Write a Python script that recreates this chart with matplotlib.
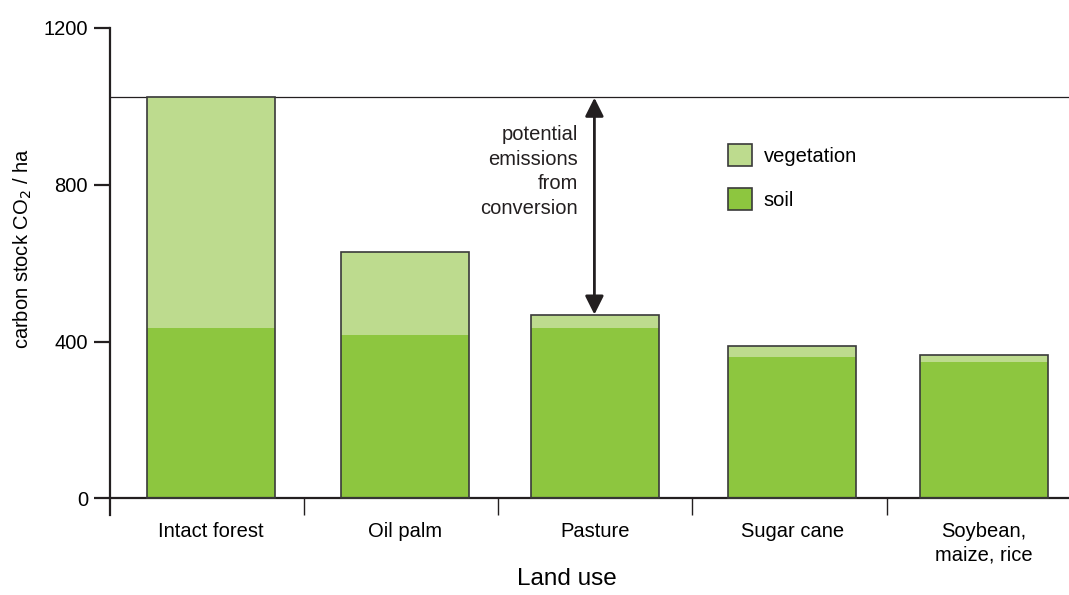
import matplotlib.pyplot as plt
from matplotlib.patches import Patch

plt.rcParams['font.family'] = ['Liberation Sans', 'DejaVu Sans']

land_use = ['Intact forest', 'Oil palm', 'Pasture', 'Sugar cane', 'Soybean,\nmaize, rice']
soil = [434, 416, 434, 360, 347]
vegetation = [590, 212, 33, 28, 18]
forest_total = 1024

veg_color = '#bddb8e'
soil_color = '#8dc63f'
edge = '#3a3a3a'
dark = '#231f20'

fig = plt.figure(figsize=(10.69, 5.95), dpi=100)
ax = fig.add_axes([0.103, 0.134, 0.897, 0.819])

centers = [0.52, 1.52, 2.5, 3.515, 4.5]
totals = [s + v for s, v in zip(soil, vegetation)]
w = 0.66

ax.bar(centers, soil, width=w, color=soil_color, linewidth=0, zorder=2)
ax.bar(centers, vegetation, width=w, bottom=soil, color=veg_color, linewidth=0, zorder=2)
ax.bar(centers, totals, width=w, facecolor='none', edgecolor=edge, linewidth=1.2, zorder=3)

ax.axhline(forest_total, color=dark, linewidth=0.9, zorder=1)

# double arrow: pasture -> intact forest
ax.annotate('', xy=(2.495, forest_total - 2), xytext=(2.495, totals[2] + 2),
            arrowprops=dict(arrowstyle='<|-|>', color=dark, lw=2,
                            mutation_scale=28, shrinkA=0, shrinkB=0))
ax.text(2.41, 952, 'potential\nemissions\nfrom\nconversion', ha='right', va='top',
        fontsize=14.5, color=dark, linespacing=1.37)

ax.set_xlim(0, 4.94)
ax.set_ylim(-43, 1200)
ax.spines['top'].set_visible(False)
ax.spines['right'].set_visible(False)
ax.spines['bottom'].set_position(('data', 0))
for s in ['left', 'bottom']:
    ax.spines[s].set_linewidth(1.6)
    ax.spines[s].set_color(dark)
ax.spines['left'].set_bounds(-43, 1200)

ax.set_yticks([0, 400, 800, 1200])
ax.tick_params(axis='y', direction='out', length=11.5, width=1.6, color=dark,
               labelsize=14.5, pad=4.5)

ax.set_xticks([1, 2, 3, 4])
ax.set_xticklabels([])
ax.tick_params(axis='x', which='major', direction='out', length=12.5, width=1, color=dark)
ax.set_xticks(centers, minor=True)
ax.set_xticklabels(land_use, minor=True, fontsize=14.5, linespacing=1.3)
ax.tick_params(axis='x', which='minor', length=0, pad=17)

ax.set_ylabel('carbon stock CO$_2$ / ha', fontsize=14.5)
ax.yaxis.set_label_coords(-0.079, 0.548)
ax.set_xlabel('Land use', fontsize=17.5)
ax.xaxis.set_label_coords(0.4765, -0.108)

handles = [Patch(facecolor=veg_color, edgecolor=edge, linewidth=1.2, label='vegetation'),
           Patch(facecolor=soil_color, edgecolor=edge, linewidth=1.2, label='soil')]
ax.legend(handles=handles, loc='upper left', bbox_to_anchor=(0.625, 0.80), frameon=False,
          fontsize=14.5, handlelength=1.2, handleheight=1.35, labelspacing=1.07,
          handletextpad=0.6)

fig.savefig('out.png', dpi=100)
